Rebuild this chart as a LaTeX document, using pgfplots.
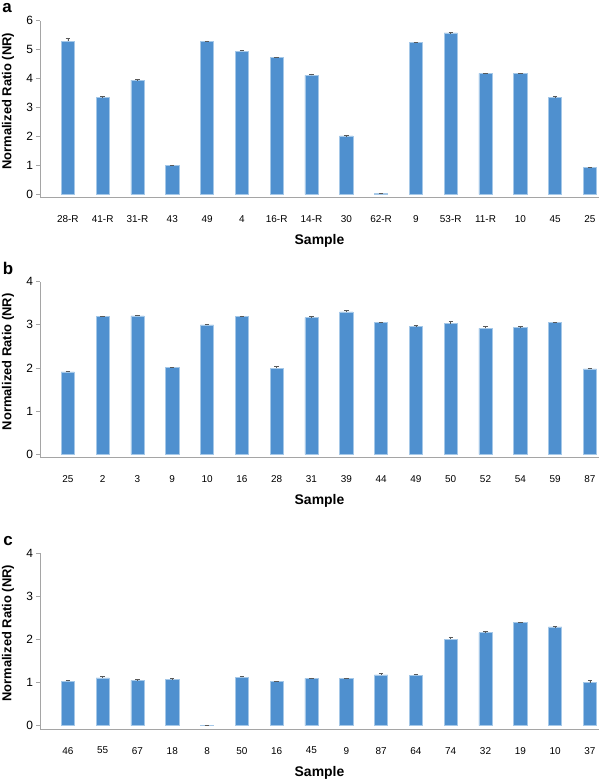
\documentclass[border=0pt]{standalone}
\usepackage{fontspec}
\setmainfont{Liberation Sans}
\usepackage{pgfplots}
\usepackage{pgfplotstable}
\pgfplotsset{compat=1.18}
\definecolor{barblue}{RGB}{79,144,207}
\definecolor{baredge}{RGB}{165,200,232}
\definecolor{axgray}{RGB}{165,165,165}
\definecolor{errgray}{RGB}{90,90,90}

\pgfplotstableread{
x y e
0 5.29 0.12
1 3.36 0.02
2 3.95 0.01
3 0.99 0.02
4 5.28 0.02
5 4.95 0.03
6 4.72 0.03
7 4.11 0.05
8 2.02 0.01
9 0.03 0.00
10 5.24 0.02
11 5.58 0.01
12 4.18 0.02
13 4.19 0.01
14 3.34 0.06
15 0.92 0.01
}\dataA

\pgfplotstableread{
x y e
0 1.91 0.01
1 3.19 0.02
2 3.21 0.02
3 2.01 0.01
4 3.00 0.01
5 3.20 0.01
6 2.00 0.03
7 3.17 0.02
8 3.30 0.03
9 3.06 0.01
10 2.96 0.02
11 3.03 0.05
12 2.92 0.05
13 2.95 0.01
14 3.05 0.01
15 1.98 0.01
}\dataB

\pgfplotstableread{
x y e
0 1.03 0.02
1 1.11 0.03
2 1.05 0.02
3 1.07 0.02
4 0.01 0.00
5 1.12 0.03
6 1.02 0.01
7 1.10 0.01
8 1.10 0.01
9 1.18 0.03
10 1.17 0.02
11 2.01 0.05
12 2.16 0.04
13 2.40 0.01
14 2.29 0.01
15 1.00 0.05
}\dataC

\tikzset{letter/.style={anchor=base, inner sep=0pt, font=\bfseries\fontsize{17}{19}\selectfont}}

\pgfplotsset{
  panel/.style={
    scale only axis,
    width=559bp,
    xmin=-0.8, xmax=15.26,
    axis lines*=left,
    axis line style={axgray, line width=0.8bp, -},
    ybar, bar width=13.3bp,
    xtick=data,
    major x tick style={draw=none},
    ytick style={axgray, line width=0.8bp},
    tick align=outside,
    major tick length=3.5bp,
    /pgf/number format/assume math mode=true,
    y tick label style={font=\fontsize{12}{14}\selectfont},
    x tick label style={font=\fontsize{10}{12}\selectfont, anchor=center, yshift=-18bp},
    xlabel={Sample},
    xlabel style={font=\bfseries\fontsize{14}{16}\selectfont, at={(axis description cs:0.5,0)}, anchor=center, yshift=-43.3bp},
    ylabel={Normalized Ratio (NR)},
    ylabel style={font=\bfseries\fontsize{13}{15}\selectfont, at={([xshift=-32bp]axis description cs:0,0.545)}, anchor=center},
    clip=false,
  },
  bars/.style={
    fill=barblue, draw=baredge, line width=0.6bp,
    error bars/.cd, y dir=plus, y explicit,
    error mark=|,
    error bar style={errgray, line width=0.5bp},
    error mark options={errgray, line width=0.5bp, mark size=2.2bp},
  },
}

\begin{document}
\begin{tikzpicture}
\useasboundingbox (0,0) rectangle (600bp,-780bp);

% Panel a
\begin{axis}[panel,
  at={(40bp,-197.8bp)}, anchor=south west,
  height=177.1bp, ymin=-0.12, ymax=6, ytick={0,1,2,3,4,5,6},
  xticklabels={28-R,41-R,31-R,43,49,4,16-R,14-R,30,62-R,9,53-R,11-R,10,45,25},
]
\addplot[bars] table[x=x,y=y,y error=e] {\dataA};
\node[letter, xshift=-33bp, yshift=8.5bp] at (rel axis cs:0,1) {a};
\end{axis}

% Panel b
\begin{axis}[panel,
  at={(40bp,-457.8bp)}, anchor=south west,
  height=176.1bp, ymin=-0.08, ymax=4, ytick={0,1,2,3,4},
  xticklabels={25,2,3,9,10,16,28,31,39,44,49,50,52,54,59,87},
]
\addplot[bars] table[x=x,y=y,y error=e] {\dataB};
\node[letter, xshift=-32bp, yshift=7bp] at (rel axis cs:0,1) {b};
\end{axis}

% Panel c
\begin{axis}[panel,
  at={(40bp,-729.1bp)}, anchor=south west,
  height=175.8bp, ymin=-0.08, ymax=4, ytick={0,1,2,3,4},
  xticklabels={46,55,67,18,8,50,16,45,9,87,64,74,32,19,10,37},
]
\addplot[bars] table[x=x,y=y,y error=e] {\dataC};
\node[letter, xshift=-32bp, yshift=8bp] at (rel axis cs:0,1) {c};
\end{axis}
\end{tikzpicture}
\end{document}
